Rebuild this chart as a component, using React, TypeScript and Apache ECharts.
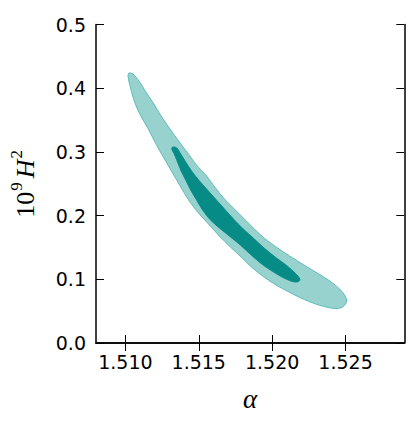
import React, { useEffect, useRef } from "react";
import * as echarts from "echarts";

// 95% contour (outer), traced boundary
const outerAlpha = [1.51025,1.51052,1.51093,1.51140,1.51194,1.51248,1.51309,1.51363,1.51424,1.51485,1.51553,1.51614,1.51681,1.51763,1.51851,1.51945,1.52047,1.52141,1.52216,1.52284,1.52351,1.52412,1.52459,1.52493,1.52507,1.52500,
  1.52466,1.52399,1.52297,1.52196,1.52114,1.52026,1.51925,1.51844,1.51796,1.51715,1.51634,1.51560,1.51492,1.51431,1.51377,1.51330,1.51282,1.51235,1.51194,1.51160,1.51113,1.51079,1.51052,1.51032,1.51018];
const outerH2 = [0.4239,0.4223,0.4113,0.3940,0.3752,0.3548,0.3344,0.3171,0.2983,0.2794,0.2622,0.2433,0.2245,0.2057,0.1852,0.1648,0.1476,0.1334,0.1224,0.1130,0.1036,0.0942,0.0848,0.0754,0.0675,0.0612,
  0.0549,0.0549,0.0612,0.0706,0.0801,0.0911,0.1068,0.1224,0.1334,0.1507,0.1695,0.1884,0.2057,0.2245,0.2449,0.2637,0.2826,0.3014,0.3187,0.3344,0.3532,0.3689,0.3862,0.4035,0.4192];

// 68% contour (inner)
const innerAlpha = [1.51323,1.51350,1.51377,1.51411,1.51451,1.51499,1.51553,1.51614,1.51675,1.51736,1.51803,1.51871,1.51945,1.52020,1.52094,1.52141,1.52175,1.52189,
  1.52169,1.52128,1.52067,1.51999,1.51938,1.51857,1.51783,1.51708,1.51641,1.51580,1.51526,1.51485,1.51445,1.51411,1.51377,1.51350,1.51330,1.51316];
const innerH2 = [0.3077,0.3061,0.2967,0.2841,0.2700,0.2559,0.2418,0.2261,0.2104,0.1947,0.1790,0.1648,0.1491,0.1350,0.1224,0.1130,0.1052,0.0989,
  0.0958,0.0973,0.1036,0.1130,0.1224,0.1381,0.1538,0.1680,0.1805,0.1931,0.2088,0.2245,0.2402,0.2559,0.2716,0.2873,0.2983,0.3046];

const alphaTicks = [1.510, 1.515, 1.520, 1.525];
const alphaRange = [1.508, 1.529];
const h2Range = [0, 0.5];

function polySeries(xs: number[], ys: number[], fill: string, stroke: string, z: number) {
  return {
    type: "custom",
    xAxisIndex: 0,
    yAxisIndex: 0,
    z,
    silent: true,
    data: xs.map((x, i) => [x, ys[i]]),
    encode: { x: 0, y: 1 },
    renderItem: (params: any, api: any) => {
      if (params.dataIndex !== 0) return null;
      const pts = xs.map((x, i) => api.coord([x, ys[i]]));
      return {
        type: "polygon",
        shape: { points: pts, smooth: 0.3 },
        style: { fill, stroke, lineWidth: 1 },
      };
    },
  };
}

export default function App() {
  const ref = useRef<HTMLDivElement>(null);
  useEffect(() => {
    if (!ref.current) return;
    const chart = echarts.init(ref.current, null, { renderer: "svg" });
    const tickLabel = { fontFamily: "DejaVu Sans", fontSize: 19, color: "#000" };
    const axisLine = { show: true, lineStyle: { color: "#000", width: 1.5 } };
    const axisTick = { show: true, inside: true, length: 8, lineStyle: { color: "#000", width: 1 } };
    chart.setOption({
      animation: false,
      backgroundColor: "#fff",
      grid: { left: 93.5, right: 15.7, top: 24.5, bottom: 86, containLabel: false },
      xAxis: [
        {
          type: "value",
          position: "bottom",
          min: alphaRange[0],
          max: alphaRange[1],
          axisLine,
          axisTick: { ...axisTick, customValues: alphaTicks },
          axisLabel: { ...tickLabel, margin: 9, customValues: alphaTicks, formatter: (v: number) => v.toFixed(3) },
          splitLine: { show: false },
          name: "α",
          nameLocation: "middle",
          nameGap: 42,
          nameTextStyle: { fontFamily: "Liberation Serif", fontStyle: "italic", fontSize: 27, color: "#000" },
        },
        {
          type: "value",
          position: "top",
          min: alphaRange[0],
          max: alphaRange[1],
          axisLine,
          axisTick: { ...axisTick, customValues: alphaTicks },
          axisLabel: { show: false, customValues: alphaTicks },
          splitLine: { show: false },
        },
      ],
      yAxis: [
        {
          type: "value",
          position: "left",
          min: h2Range[0],
          max: h2Range[1],
          interval: 0.1,
          axisLine,
          axisTick,
          axisLabel: { ...tickLabel, margin: 10, formatter: (v: number) => v.toFixed(1) },
          splitLine: { show: false },
          name: "{n|10}{s|9}{i|H}{s|2}",
          nameLocation: "middle",
          nameRotate: 90,
          nameGap: 58,
          nameTextStyle: {
            color: "#000",
            rich: {
              n: { fontFamily: "Liberation Serif", fontSize: 26, lineHeight: 30, verticalAlign: "bottom", color: "#000" },
              s: { fontFamily: "Liberation Serif", fontSize: 17, lineHeight: 30, verticalAlign: "top", color: "#000", padding: [0, 0, 6, 1] },
              i: { fontFamily: "Liberation Serif", fontStyle: "italic", fontSize: 26, lineHeight: 30, verticalAlign: "bottom", color: "#000", padding: [0, 0, 0, 4] },
            },
          },
        },
        {
          type: "value",
          position: "right",
          min: h2Range[0],
          max: h2Range[1],
          interval: 0.1,
          axisLine,
          axisTick,
          axisLabel: { show: false },
          splitLine: { show: false },
        },
      ],
      series: [
        polySeries(outerAlpha, outerH2, "#98d2cf", "#5fbcb6", 2),
        polySeries(innerAlpha, innerH2, "#078b87", "#078b87", 3),
      ],
    });
    return () => chart.dispose();
  }, []);
  return <div ref={ref} style={{ position: "absolute", left: 0, top: 0, width: 420, height: 429 }} />;
}
